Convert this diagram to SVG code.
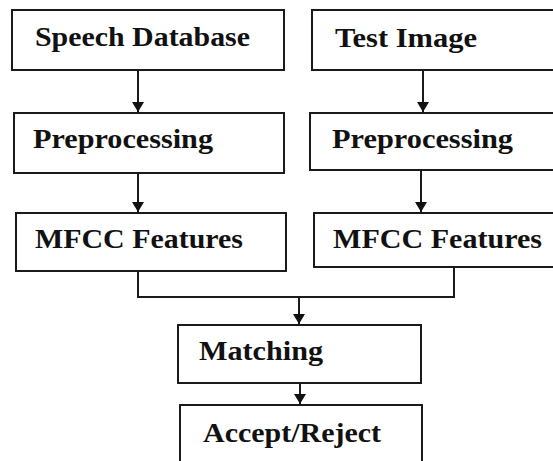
<svg xmlns="http://www.w3.org/2000/svg" width="553" height="461" viewBox="0 0 553 461">
<defs>
<style>
.box{fill:#fff;stroke:#1a1a1a;stroke-width:2}
.lbl{font-family:"Liberation Serif","Times New Roman",serif;font-weight:bold;font-size:28px;fill:#111}
.con{fill:none;stroke:#1a1a1a;stroke-width:2}
</style>
<marker id="ah" viewBox="0 0 10 12" refX="10" refY="6" markerWidth="10" markerHeight="12" markerUnits="userSpaceOnUse" orient="auto">
<path d="M0,0 L10,6 L0,12 Z" fill="#111"/>
</marker>
</defs>
<rect width="553" height="461" fill="#fff"/>
<g id="connectors">
<line class="con" x1="138" y1="70" x2="138" y2="112" marker-end="url(#ah)"/>
<line class="con" x1="423" y1="70" x2="423" y2="112" marker-end="url(#ah)"/>
<line class="con" x1="138" y1="173" x2="138" y2="212" marker-end="url(#ah)"/>
<line class="con" x1="421" y1="170" x2="421" y2="212" marker-end="url(#ah)"/>
<polyline class="con" points="138,271 138,297 454,297 454,267"/>
<line class="con" x1="299" y1="297" x2="299" y2="324" marker-end="url(#ah)"/>
<line class="con" x1="300" y1="383" x2="300" y2="404" marker-end="url(#ah)"/>
</g>
<g id="speech-db">
<rect class="box" x="12" y="10" width="272" height="60"/>
<text class="lbl" x="35" y="46" textLength="215" lengthAdjust="spacingAndGlyphs">Speech Database</text>
</g>
<g id="test-image">
<rect class="box" x="312" y="10" width="250" height="60"/>
<text class="lbl" x="335" y="47" textLength="142" lengthAdjust="spacingAndGlyphs">Test Image</text>
</g>
<g id="preproc-1">
<rect class="box" x="14" y="113" width="270" height="60"/>
<text class="lbl" x="33" y="148" textLength="180" lengthAdjust="spacingAndGlyphs">Preprocessing</text>
</g>
<g id="preproc-2">
<rect class="box" x="310" y="113" width="252" height="57"/>
<text class="lbl" x="332" y="148" textLength="181" lengthAdjust="spacingAndGlyphs">Preprocessing</text>
</g>
<g id="mfcc-1">
<rect class="box" x="16" y="213" width="270" height="58"/>
<text class="lbl" x="35" y="248" textLength="208" lengthAdjust="spacingAndGlyphs">MFCC Features</text>
</g>
<g id="mfcc-2">
<rect class="box" x="314" y="213" width="248" height="54"/>
<text class="lbl" x="333" y="248" textLength="209" lengthAdjust="spacingAndGlyphs">MFCC Features</text>
</g>
<g id="matching">
<rect class="box" x="178" y="325" width="243" height="58"/>
<text class="lbl" x="199" y="360" textLength="124" lengthAdjust="spacingAndGlyphs">Matching</text>
</g>
<g id="accept-reject">
<rect class="box" x="180" y="405" width="242" height="70"/>
<text class="lbl" x="203" y="442" textLength="178" lengthAdjust="spacingAndGlyphs">Accept/Reject</text>
</g>
</svg>
